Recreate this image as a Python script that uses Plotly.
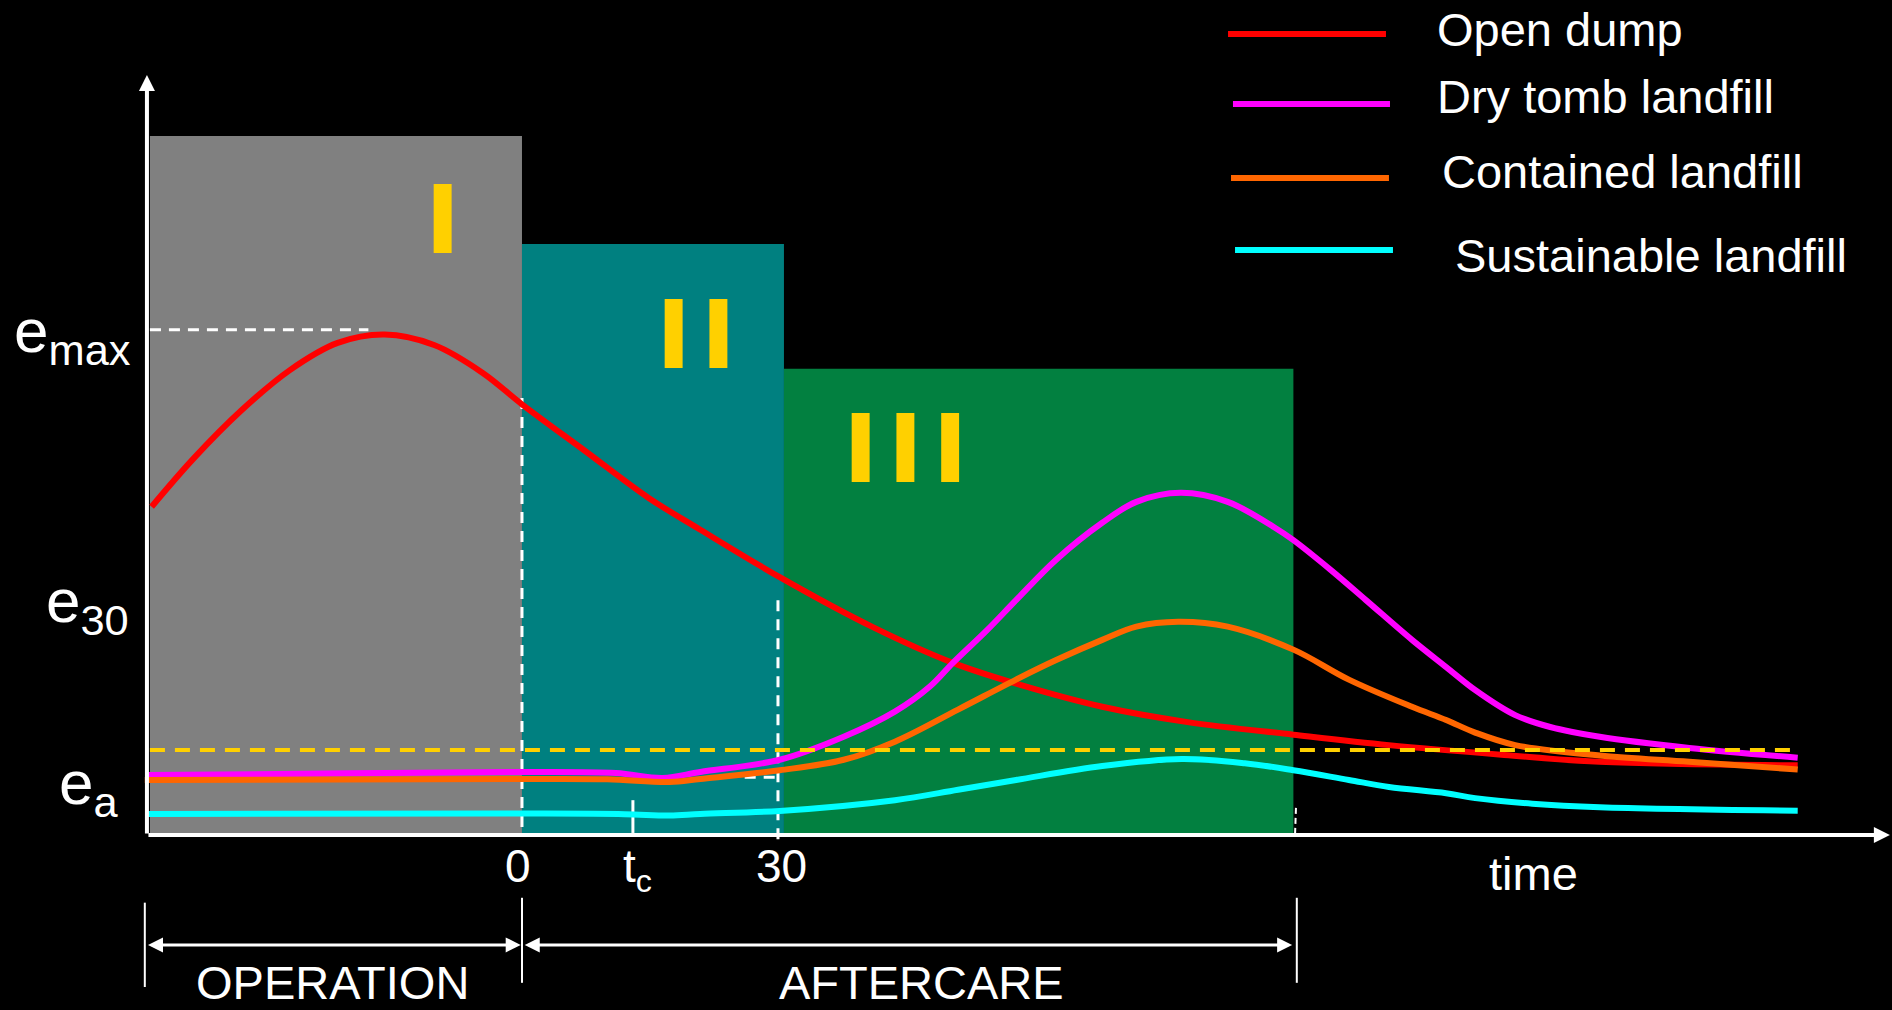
import plotly.graph_objects as go

# ---------------- data ----------------
series_names = ["Open dump", "Dry tomb landfill", "Contained landfill", "Sustainable landfill"]
series_colors = ["#FF0000", "#FF00FF", "#FF6600", "#00FFFF"]

open_dump_t = [-43.4, -38.5, -32.9, -27.2, -21.6, -16.1, -10.3, -4.6, 0, 7.4, 14.8, 20.9, 30.2,
               41.0, 50.5, 58.5, 68.0, 78.0, 90.4, 101.6, 115.1, 126.3, 149.5]
open_dump_e = [46.8, 53.7, 60.6, 66.4, 70.3, 71.5, 70.0, 66.0, 61.5, 54.8, 48.1, 43.5, 36.7,
               29.6, 24.4, 21.2, 18.1, 15.9, 14.1, 12.6, 11.2, 10.2, 9.7]

dry_tomb_t = [-43.9, -20, 0, 11, 16.5, 20.9, 30.2, 37.7, 43.7, 47.8, 50.5, 54.5, 57.9, 62.6, 68.0,
              72.0, 77.2, 82.7, 88.1, 90.4, 94.8, 98.9, 104.3, 108.3, 111.7, 116.4, 120.5, 126.3,
              136.8, 149.5]
dry_tomb_e = [8.3, 8.55, 8.75, 8.6, 7.9, 8.75, 10.5, 13.8, 17.4, 21.0, 24.4, 29.1, 33.4, 39.2, 44.5,
              47.5, 48.8, 47.5, 43.9, 42.0, 37.7, 33.4, 27.7, 23.8, 20.5, 16.9, 15.2, 13.8,
              12.2, 10.8]

contained_t = [-44.2, 0, 10, 17.3, 20.9, 30.2, 37.7, 43.7, 51.1, 57.9, 62.6, 68.0, 72.0, 76.9, 82.7,
               90.4, 96.9, 104.3, 108.3, 111.7, 116.4, 126.3, 136.8, 149.5]
contained_e = [7.6, 7.75, 7.7, 7.3, 7.75, 9.0, 10.5, 13.1, 17.7, 22.0, 24.8, 27.7, 29.6, 30.3, 29.6,
               26.3, 22.0, 18.1, 16.2, 14.4, 12.6, 11.1, 10.2, 9.1]

sustainable_t = [-43.9, 0, 12, 17.3, 20.9, 30.2, 43.7, 51.1, 57.9, 68.0, 77.3, 84.7, 90.4, 96.9,
                 101.6, 108.3, 111.7, 118.4, 126.3, 149.5]
sustainable_e = [2.73, 2.78, 2.7, 2.5, 2.73, 3.16, 4.7, 6.2, 7.6, 9.6, 10.6, 10.0, 9.0, 7.6,
                 6.6, 5.7, 5.0, 4.2, 3.7, 3.2]

phase_labels = ["I", "II", "III"]
phase_start = [-43.6, 0, 30.7]
phase_end = [0, 30.7, 90.4]
phase_height = [100, 84.5, 66.6]
phase_colors = ["#808080", "#008080", "#028040"]

e_max = 72.2
e_limit = 11.9
level_labels = ["e<sub>max</sub>", "e<sub>30</sub>", "e<sub>a</sub>"]
tick_labels = ["0", "t<sub>c</sub>", "30"]
tick_values = [0, 13.0, 30]
period_labels = ["OPERATION", "AFTERCARE"]
period_bounds = [-44.2, 0, 90.8]

# ---------------- figure ----------------
FONT = "Liberation Sans, Arial, sans-serif"
fig = go.Figure()

series = [(open_dump_t, open_dump_e), (dry_tomb_t, dry_tomb_e),
          (contained_t, contained_e), (sustainable_t, sustainable_e)]
for (t, e), name, col in zip(series, series_names, series_colors):
    fig.add_trace(go.Scatter(x=t, y=e, mode="lines", name=name, showlegend=False,
                             line=dict(color=col, width=6, shape="spline", smoothing=1.0),
                             hoverinfo="skip"))

shapes = []
for x0, x1, h, c in zip(phase_start, phase_end, phase_height, phase_colors):
    shapes.append(dict(type="rect", xref="x", yref="y", x0=x0, x1=x1, y0=0, y1=h,
                       fillcolor=c, line=dict(width=0), layer="below"))

white_dash = dict(color="white", width=3, dash="11px,8px")
# e_max guide
shapes.append(dict(type="line", xref="x", yref="y", x0=-43.6, x1=-18.0, y0=e_max, y1=e_max,
                   line=white_dash, layer="below"))
# vertical guides at t=0 and t=30
shapes.append(dict(type="line", xref="x", yref="y", x0=0, x1=0, y0=62.4, y1=0,
                   line=white_dash, layer="below"))
shapes.append(dict(type="line", xref="x", yref="y", x0=30, x1=30, y0=33.4, y1=-1.0,
                   line=white_dash, layer="below"))
shapes.append(dict(type="line", xref="x", yref="y", x0=26.1, x1=30, y0=8.0, y1=8.0,
                   line=white_dash, layer="below"))
# tc tick and end-of-aftercare tick
shapes.append(dict(type="line", xref="x", yref="y", x0=tick_values[1], x1=tick_values[1],
                   y0=4.7, y1=0, line=dict(color="white", width=3), layer="below"))
shapes.append(dict(type="line", xref="x", yref="y", x0=90.7, x1=90.6, y0=3.6, y1=0,
                   line=dict(color="white", width=2, dash="6px,4px"), layer="below"))
# yellow limit line
shapes.append(dict(type="line", xref="x", yref="y", x0=-43.6, x1=149.5, y0=e_limit, y1=e_limit,
                   line=dict(color="#FFD000", width=4, dash="15px,10px"), layer="above"))
# bottom period boundaries
for i, xb in enumerate(period_bounds):
    y0, y1 = (-10.0, -22.1) if i == 0 else (-9.3, -21.5)
    shapes.append(dict(type="line", xref="x", yref="y", x0=xb, x1=xb, y0=y0, y1=y1,
                       line=dict(color="white", width=2)))

# manual legend lines
legend_x = [(82.74, 101.25), (83.32, 101.72), (83.09, 101.60), (83.56, 102.07)]
legend_y = [114.63, 104.59, 93.97, 83.64]
for (lx0, lx1), ly, col in zip(legend_x, legend_y, series_colors):
    shapes.append(dict(type="line", xref="x", yref="y", x0=lx0, x1=lx1, y0=ly, y1=ly,
                       line=dict(color=col, width=6)))

ann = []


def arrow(x, y, ax, ay, both=False, width=4, size=0.8):
    d = dict(x=x, y=y, ax=ax, ay=ay, xref="x", yref="y", axref="x", ayref="y", text="",
             showarrow=True, arrowhead=2, arrowsize=size, arrowwidth=width,
             arrowcolor="white", standoff=0, startstandoff=0)
    if both:
        d.update(arrowside="end+start", startarrowhead=2, startarrowsize=size)
    return d


# axes
ann.append(arrow(-43.95, 108.75, -43.95, -0.3))
ann.append(arrow(160.3, -0.3, -43.95, -0.3))
# period arrows
ann.append(arrow(-0.15, -16.07, -44.0, -16.07, both=True, width=3, size=1.0))
ann.append(arrow(90.25, -16.07, 0.15, -16.07, both=True, width=3, size=1.0))

# legend texts
legend_tx = [107.0, 107.0, 107.6, 109.1]
legend_ty = [115.2, 105.6, 94.9, 82.9]
for name, tx, ty in zip(series_names, legend_tx, legend_ty):
    ann.append(dict(x=tx, y=ty, xref="x", yref="y", text=name, showarrow=False,
                    xanchor="left", yanchor="middle",
                    font=dict(family=FONT, size=47, color="white")))

# level labels
level_x = [-59.8, -56.0, -54.5]
level_y = [77.33, 38.6, 12.5]
for lab, lx, ly in zip(level_labels, level_x, level_y):
    ann.append(dict(x=lx, y=ly, xref="x", yref="y", text=lab, showarrow=False,
                    xanchor="left", yanchor="top",
                    font=dict(family=FONT, size=62, color="white")))

# tick labels
ann.append(dict(x=-0.47, y=-4.75, xref="x", yref="y", text=tick_labels[0], showarrow=False,
                xanchor="center", yanchor="middle", font=dict(family=FONT, size=46, color="white")))
ann.append(dict(x=11.6, y=-0.78, xref="x", yref="y", text=tick_labels[1], showarrow=False,
                xanchor="left", yanchor="top", font=dict(family=FONT, size=46, color="white")))
ann.append(dict(x=30.41, y=-4.75, xref="x", yref="y", text=tick_labels[2], showarrow=False,
                xanchor="center", yanchor="middle", font=dict(family=FONT, size=46, color="white")))
ann.append(dict(x=113.09, y=-5.84, xref="x", yref="y", text="time", showarrow=False,
                xanchor="left", yanchor="middle", font=dict(family=FONT, size=47, color="white")))

# period labels
period_x = [-22.15, 46.76]
period_y = [-21.5, -21.5]
for lab, px_, py_ in zip(period_labels, period_x, period_y):
    ann.append(dict(x=px_, y=py_, xref="x", yref="y", text=lab, showarrow=False,
                    xanchor="center", yanchor="middle",
                    font=dict(family=FONT, size=47, color="white")))

# phase numerals
numeral_x = [-9.32, 20.45, 45.0]
numeral_y = [87.9, 71.43, 55.08]
for lab, nx, ny in zip(phase_labels, numeral_x, numeral_y):
    ann.append(dict(x=nx, y=ny, xref="x", yref="y", text="\u200a".join(lab), showarrow=False,
                    xanchor="center", yanchor="middle",
                    font=dict(family="DejaVu Sans", size=95, color="#FFD000", weight="bold")))

fig.update_layout(
    width=1892, height=1010, autosize=False,
    margin=dict(l=0, r=0, t=0, b=0, pad=0),
    paper_bgcolor="black", plot_bgcolor="black",
    xaxis=dict(range=[-61.17, 160.55], visible=False, fixedrange=True),
    yaxis=dict(range=[-25.4, 119.5], visible=False, fixedrange=True),
    shapes=shapes, annotations=ann, showlegend=False,
)

fig.write_html("out.html", config={"displayModeBar": False},
               post_script="document.body.style.margin='0';document.body.style.overflow='hidden';")
